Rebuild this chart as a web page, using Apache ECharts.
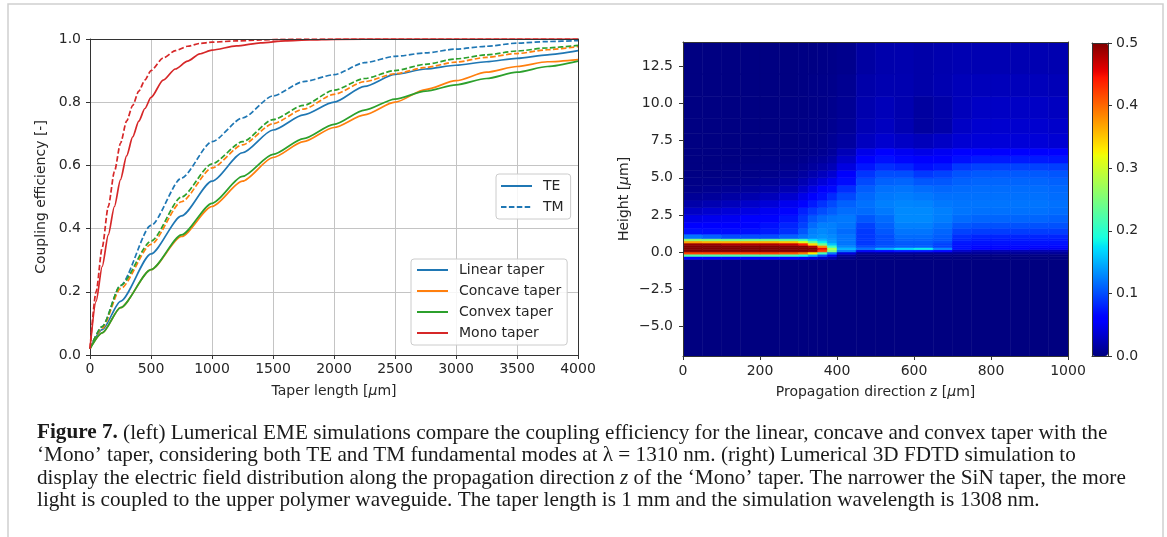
<!DOCTYPE html>
<html><head><meta charset="utf-8">
<script src="https://cdn.jsdelivr.net/npm/echarts@6/dist/echarts.min.js"></script>
<style>html,body{margin:0;padding:0;background:#fff}#c{width:1167px;height:537px}</style>
</head><body><div id="c"></div>
<script>
// ---------------- LEFT PANEL DATA (coupling efficiency vs taper length, µm) ----------------
const taperLengths = [0,100,250,500,750,1000,1250,1500,1750,2000,2250,2500,2750,3000,3250,3500,3750,4000];
const linearTE  = [0.02,0.08,0.17,0.32,0.44,0.55,0.64,0.712,0.76,0.80,0.85,0.888,0.905,0.917,0.928,0.939,0.95,0.963];
const linearTM  = [0.02,0.09,0.22,0.41,0.56,0.675,0.75,0.82,0.865,0.887,0.925,0.945,0.956,0.968,0.977,0.987,0.992,0.995];
const concaveTE = [0.02,0.07,0.15,0.27,0.375,0.47,0.55,0.625,0.675,0.72,0.76,0.80,0.84,0.868,0.895,0.913,0.928,0.935];
const concaveTM = [0.02,0.085,0.21,0.35,0.485,0.592,0.665,0.732,0.778,0.825,0.865,0.89,0.91,0.927,0.942,0.954,0.966,0.976];
const convexTE  = [0.02,0.07,0.15,0.27,0.38,0.48,0.565,0.635,0.685,0.73,0.775,0.81,0.835,0.855,0.875,0.895,0.913,0.93];
const convexTM  = [0.02,0.09,0.22,0.36,0.50,0.605,0.675,0.745,0.79,0.838,0.875,0.9,0.92,0.937,0.95,0.962,0.972,0.98];
const monoLengths = [0,50,100,150,200,250,300,350,400,450,500,600,700,800,900,1000,1200,1400,1600,1800,2000,2500,3000,3500,4000];
const monoTE = [0.02,0.17,0.28,0.38,0.47,0.555,0.63,0.69,0.74,0.78,0.815,0.87,0.905,0.93,0.953,0.965,0.978,0.988,0.994,0.997,0.999,1.0,1.0,1.0,1.0];
const monoTM = [0.02,0.2,0.34,0.47,0.58,0.67,0.74,0.79,0.835,0.87,0.9,0.94,0.963,0.977,0.986,0.99,0.994,0.997,0.999,1.0,1.0,1.0,1.0,1.0,1.0];
const taperNames = ['Linear taper','Concave taper','Convex taper','Mono taper'];
const modeNames = ['TE','TM'];

// ---------------- RIGHT PANEL DATA (|E| field, z in µm, height in µm) ----------------
const zEdges = [0,50,100,150,200,250,300,325,350,375,400,450,500,550,600,650,700,750,800,850,900,950,1000];
const hEdges = [-7.02,-0.5,-0.3,-0.15,0,0.15,0.3,0.45,0.6,0.75,0.9,1.2,1.6,2.0,2.5,3.0,3.5,4.0,4.5,5.0,5.5,6.0,6.5,7.0,8.0,9.0,10.5,12.0,14.16];
// rows listed from bottom (height -7) to top (height 14.2); 22 columns each
const field = [
 [0,0,0,0,0,0,0,0,0,0,0,0,0,0,0,0,0,0,0,0,0,0],
 [0.06,0.06,0.06,0.06,0.06,0.06,0.05,0.04,0.03,0.02,0.005,0,0,0,0,0,0,0,0,0,0,0],
 [0.22,0.22,0.22,0.22,0.22,0.21,0.19,0.15,0.1,0.05,0.01,0,0,0,0,0,0,0,0,0,0,0],
 [0.42,0.42,0.42,0.42,0.42,0.41,0.39,0.33,0.22,0.12,0.04,0.01,0.01,0.01,0.01,0.01,0.01,0.01,0.01,0.01,0.01,0.01],
 [0.5,0.5,0.5,0.5,0.5,0.5,0.5,0.49,0.42,0.25,0.12,0.05,0.06,0.07,0.07,0.06,0.03,0.02,0.02,0.02,0.02,0.02],
 [0.5,0.5,0.5,0.5,0.5,0.5,0.5,0.5,0.45,0.28,0.15,0.12,0.15,0.17,0.18,0.13,0.07,0.06,0.06,0.055,0.05,0.05],
 [0.5,0.5,0.5,0.5,0.5,0.5,0.5,0.48,0.38,0.21,0.13,0.1,0.105,0.11,0.11,0.095,0.07,0.065,0.065,0.065,0.065,0.065],
 [0.49,0.49,0.48,0.48,0.48,0.47,0.44,0.34,0.24,0.16,0.12,0.09,0.1,0.105,0.105,0.095,0.072,0.07,0.07,0.07,0.07,0.07],
 [0.37,0.36,0.36,0.36,0.36,0.35,0.31,0.24,0.18,0.14,0.12,0.09,0.1,0.108,0.108,0.1,0.075,0.072,0.072,0.072,0.072,0.072],
 [0.26,0.25,0.24,0.24,0.24,0.23,0.21,0.17,0.15,0.135,0.12,0.09,0.1,0.11,0.11,0.105,0.08,0.075,0.075,0.075,0.075,0.075],
 [0.12,0.11,0.1,0.1,0.1,0.11,0.12,0.13,0.135,0.13,0.12,0.09,0.1,0.115,0.115,0.108,0.085,0.08,0.08,0.08,0.08,0.08],
 [0.07,0.068,0.068,0.07,0.075,0.085,0.105,0.125,0.13,0.125,0.115,0.09,0.105,0.12,0.12,0.112,0.095,0.092,0.092,0.092,0.092,0.092],
 [0.058,0.058,0.06,0.063,0.07,0.08,0.095,0.115,0.125,0.125,0.12,0.095,0.11,0.125,0.125,0.118,0.105,0.102,0.102,0.102,0.102,0.102],
 [0.045,0.048,0.05,0.055,0.062,0.072,0.088,0.105,0.115,0.12,0.122,0.105,0.115,0.13,0.13,0.124,0.115,0.112,0.112,0.112,0.112,0.11],
 [0.03,0.034,0.038,0.043,0.05,0.062,0.078,0.09,0.1,0.108,0.116,0.115,0.122,0.13,0.13,0.125,0.12,0.118,0.118,0.118,0.118,0.116],
 [0.018,0.022,0.026,0.032,0.038,0.048,0.062,0.075,0.087,0.098,0.11,0.118,0.125,0.128,0.127,0.122,0.12,0.12,0.12,0.12,0.12,0.118],
 [0.01,0.012,0.016,0.02,0.026,0.034,0.046,0.058,0.07,0.083,0.098,0.114,0.122,0.124,0.122,0.118,0.118,0.118,0.118,0.118,0.118,0.116],
 [0.005,0.007,0.009,0.012,0.016,0.022,0.032,0.043,0.054,0.066,0.085,0.108,0.118,0.12,0.116,0.113,0.115,0.116,0.116,0.116,0.116,0.114],
 [0.003,0.004,0.005,0.007,0.01,0.014,0.022,0.03,0.039,0.048,0.068,0.098,0.11,0.112,0.105,0.105,0.11,0.112,0.112,0.112,0.112,0.11],
 [0.002,0.002,0.003,0.004,0.006,0.009,0.014,0.02,0.027,0.035,0.054,0.088,0.1,0.1,0.09,0.095,0.103,0.106,0.106,0.106,0.106,0.104],
 [0.001,0.001,0.002,0.003,0.004,0.006,0.009,0.013,0.018,0.024,0.042,0.073,0.085,0.08,0.07,0.075,0.09,0.095,0.095,0.095,0.095,0.093],
 [0.001,0.001,0.001,0.002,0.003,0.004,0.006,0.009,0.012,0.017,0.032,0.058,0.07,0.065,0.055,0.06,0.07,0.075,0.075,0.075,0.075,0.073],
 [0.001,0.001,0.001,0.001,0.002,0.003,0.004,0.006,0.008,0.012,0.024,0.046,0.055,0.05,0.045,0.05,0.055,0.06,0.06,0.06,0.06,0.058],
 [0.001,0.001,0.001,0.001,0.002,0.002,0.003,0.004,0.006,0.009,0.014,0.028,0.034,0.03,0.026,0.03,0.036,0.038,0.038,0.038,0.038,0.036],
 [0.001,0.001,0.001,0.001,0.001,0.002,0.003,0.004,0.005,0.007,0.011,0.023,0.028,0.022,0.014,0.018,0.03,0.034,0.034,0.034,0.034,0.032],
 [0.001,0.001,0.001,0.001,0.001,0.002,0.002,0.003,0.004,0.006,0.009,0.02,0.025,0.021,0.014,0.018,0.026,0.03,0.03,0.03,0.03,0.028],
 [0.001,0.001,0.001,0.001,0.001,0.001,0.002,0.003,0.004,0.005,0.008,0.018,0.021,0.021,0.018,0.021,0.025,0.026,0.026,0.026,0.026,0.024],
 [0.001,0.001,0.001,0.001,0.001,0.001,0.002,0.002,0.003,0.004,0.006,0.015,0.019,0.02,0.018,0.02,0.022,0.022,0.022,0.022,0.022,0.021]
];
const heightTicks = [-5,-2.5,0,2.5,5,7.5,10,12.5];
const fieldRange = [0, 0.5];

// ---------------- CAPTION ----------------
const captionLines = [
 '{b|Figure 7.} (left) Lumerical EME simulations compare the coupling efficiency for the linear, concave and convex taper with the',
 '‘Mono’ taper, considering both TE and TM fundamental modes at λ = 1310 nm. (right) Lumerical 3D FDTD simulation to',
 'display the electric field distribution along the propagation direction {i|z} of the ‘Mono’ taper. The narrower the SiN taper, the more',
 'light is coupled to the upper polymer waveguide. The taper length is 1 mm and the simulation wavelength is 1308 nm.'
];

// ---------------- STYLE ----------------
const FONT = 'DejaVu Sans';
const TXT = '#262626';
const AX = '#333333';
const FS = 14;
const CAP_FS = 21.2;
const COL = {'Linear taper':'#1f77b4','Concave taper':'#ff7f0e','Convex taper':'#2ca02c','Mono taper':'#d62728'};
const DASH = [5.5, 2.4];

function jet(t){
  const seg = pts => { for (let i=1;i<pts.length;i++){ if (t<=pts[i][0]) { const a=pts[i-1], b=pts[i]; return a[1]+(b[1]-a[1])*(t-a[0])/(b[0]-a[0]); } } return pts[pts.length-1][1]; };
  const r = seg([[0,0],[0.35,0],[0.66,1],[0.89,1],[1,0.5]]);
  const g = seg([[0,0],[0.125,0],[0.375,1],[0.64,1],[0.91,0],[1,0]]);
  const b = seg([[0,0.5],[0.11,1],[0.34,1],[0.65,0],[1,0]]);
  const h = v => Math.round(v*255).toString(16).padStart(2,'0');
  return '#'+h(r)+h(g)+h(b);
}
const jetColors = []; for (let i=0;i<=100;i++) jetColors.push(jet(i/100));

const pairs = (xs, ys) => xs.map((x,i)=>[x, ys[i]]);
function curve(name, xs, ys, color, dashed){
  return {type:'line', name, xAxisIndex:0, yAxisIndex:0, data:pairs(xs,ys), symbol:'none', showSymbol:false,
    smooth:0.25, smoothMonotone:'x', silent:true, z:3,
    lineStyle:{color, width:1.7, type: dashed?DASH:'solid'}, itemStyle:{color}};
}
const series = [
  curve('Linear taper', taperLengths, linearTE, COL['Linear taper'], false),
  curve('Linear taper TM', taperLengths, linearTM, COL['Linear taper'], true),
  curve('Concave taper', taperLengths, concaveTE, COL['Concave taper'], false),
  curve('Concave taper TM', taperLengths, concaveTM, COL['Concave taper'], true),
  curve('Convex taper', taperLengths, convexTE, COL['Convex taper'], false),
  curve('Convex taper TM', taperLengths, convexTM, COL['Convex taper'], true),
  curve('Mono taper', monoLengths, monoTE, COL['Mono taper'], false),
  curve('Mono taper TM', monoLengths, monoTM, COL['Mono taper'], true),
  {type:'line', name:modeNames[0], xAxisIndex:0, yAxisIndex:0, data:[], symbol:'none', lineStyle:{color:'#1f77b4', width:1.7}, itemStyle:{color:'#1f77b4'}},
  {type:'line', name:modeNames[1], xAxisIndex:0, yAxisIndex:0, data:[], symbol:'none', lineStyle:{color:'#1f77b4', width:1.7, type:DASH}, itemStyle:{color:'#1f77b4'}}
];
const cells = [];
for (let r=0;r<field.length;r++) for (let c=0;c<field[r].length;c++)
  cells.push([zEdges[c], zEdges[c+1], hEdges[r], hEdges[r+1], field[r][c]]);
const heatIndex = series.length;
series.push({
  type:'custom', xAxisIndex:2, yAxisIndex:2, data:cells, encode:{x:[0,1], y:[2,3]}, silent:true, clip:true,
  renderItem(params, api){
    const p0 = api.coord([api.value(0), api.value(2)]);
    const p1 = api.coord([api.value(1), api.value(3)]);
    const color = api.visual('color');
    return {type:'rect', shape:{x:p0[0], y:p1[1], width:p1[0]-p0[0], height:p0[1]-p1[1]},
      style:{fill:color, stroke:color, lineWidth:0.6}};
  }
});

const lbl = extra => Object.assign({fontFamily:FONT, fontSize:FS, color:TXT}, extra||{});
const frameAxis = (gridIndex, position, min, max) => ({
  type:'value', gridIndex, position, min, max, z:10,
  axisLine:{show:true, onZero:false, lineStyle:{color:AX, width:1}},
  axisTick:{show:false}, axisLabel:{show:false}, splitLine:{show:false}
});
const nameRich = txt => ({
  name: txt,
  nameTextStyle: {fontFamily:FONT, fontSize:FS, color:TXT,
    rich:{a:{fontFamily:FONT, fontSize:FS, color:TXT}, i:{fontFamily:FONT, fontSize:FS, color:TXT, fontStyle:'italic'}}}
});
const plain = v => String(v);

const option = {
  animation:false,
  backgroundColor:'#ffffff',
  grid:[
    {left:90, top:39, width:488, height:316},
    {left:683, top:42, width:385, height:314},
    {left:1092, top:43, width:16, height:313}
  ],
  xAxis:[
    Object.assign({type:'value', gridIndex:0, position:'bottom', min:0, max:4000, interval:500, z:1,
      axisLine:{show:true, onZero:false, lineStyle:{color:AX, width:1}},
      axisTick:{show:true, length:4, lineStyle:{color:AX}},
      axisLabel:lbl({margin:7, formatter:plain}),
      splitLine:{show:true, lineStyle:{color:'#c4c4c4', width:1}},
      nameLocation:'middle', nameGap:29}, nameRich('{a|Taper length [}{i|μ}{a|m]}')),
    frameAxis(0,'top',0,4000),
    Object.assign({type:'value', gridIndex:1, position:'bottom', min:0, max:1000, interval:200, z:10,
      axisLine:{show:true, onZero:false, lineStyle:{color:AX, width:1}},
      axisTick:{show:true, length:4, lineStyle:{color:AX}},
      axisLabel:lbl({margin:8, formatter:plain}), splitLine:{show:false},
      nameLocation:'middle', nameGap:29}, nameRich('{a|Propagation direction z [}{i|μ}{a|m]}')),
    frameAxis(1,'top',0,1000),
    frameAxis(2,'bottom',0,1),
    frameAxis(2,'top',0,1)
  ],
  yAxis:[
    Object.assign({type:'value', gridIndex:0, position:'left', min:0, max:1, interval:0.2, z:1,
      axisLine:{show:true, onZero:false, lineStyle:{color:AX, width:1}},
      axisTick:{show:true, length:4, lineStyle:{color:AX}},
      axisLabel:lbl({margin:9, formatter:v=>v.toFixed(1)}),
      splitLine:{show:true, lineStyle:{color:'#c4c4c4', width:1}},
      nameLocation:'middle', nameGap:42}, nameRich('{a|Coupling efficiency [-]}')),
    frameAxis(0,'right',0,1),
    Object.assign({type:'value', gridIndex:1, position:'left', min:hEdges[0], max:hEdges[hEdges.length-1], z:10,
      axisLine:{show:true, onZero:false, lineStyle:{color:AX, width:1}},
      axisTick:{show:true, length:4, lineStyle:{color:AX}, customValues:heightTicks},
      axisLabel:lbl({margin:10, customValues:heightTicks, formatter:v=>(v<0?'−':'')+Math.abs(v).toFixed(1)}),
      splitLine:{show:false},
      nameLocation:'middle', nameGap:52}, nameRich('{a|Height [}{i|μ}{a|m]}')),
    frameAxis(1,'right',hEdges[0],hEdges[hEdges.length-1]),
    frameAxis(2,'left',0,0.5),
    {type:'value', gridIndex:2, position:'right', min:fieldRange[0], max:fieldRange[1], interval:0.1, z:10,
      axisLine:{show:true, onZero:false, lineStyle:{color:AX, width:1}},
      axisTick:{show:true, length:4, lineStyle:{color:AX}},
      axisLabel:lbl({margin:8, formatter:v=>v.toFixed(1)}), splitLine:{show:false}}
  ],
  visualMap:{
    type:'continuous', min:fieldRange[0], max:fieldRange[1], dimension:4, seriesIndex:heatIndex,
    inRange:{color:jetColors}, calculable:false, hoverLink:false, realtime:false,
    orient:'vertical', left:1092, top:43, itemWidth:16, itemHeight:313, padding:0, show:true
  },
  legend:[
    {data:modeNames, orient:'vertical', left:496, top:174, padding:[5,7,5,4], itemWidth:31, itemHeight:14, itemGap:7, z:20,
     backgroundColor:'rgba(255,255,255,0.85)', borderColor:'#cccccc', borderWidth:1, borderRadius:3,
     itemStyle:{opacity:0}, selectedMode:false, textStyle:{fontFamily:FONT, fontSize:FS, color:TXT, padding:[0,0,0,6]}},
    {data:taperNames, orient:'vertical', left:411, top:259, padding:[4,6,5,5], itemWidth:31, itemHeight:14, itemGap:7, z:20,
     backgroundColor:'rgba(255,255,255,0.85)', borderColor:'#cccccc', borderWidth:1, borderRadius:3,
     itemStyle:{opacity:0}, selectedMode:false, textStyle:{fontFamily:FONT, fontSize:FS, color:TXT, padding:[0,0,0,6]}}
  ],
  graphic:[
    {type:'rect', silent:true, z:0, shape:{x:8, y:4, width:1155, height:600}, style:{fill:'none', stroke:'#cfcfcf', lineWidth:1.5}}
  ].concat(captionLines.map((t,i)=>({
    type:'text', silent:true, x:37, y:433+i*22.6,
    style:{text:t, fontFamily:'Liberation Serif', fontSize:CAP_FS, fill:'#1a1a1a', verticalAlign:'middle', align:'left',
      rich:{b:{fontFamily:'Liberation Serif', fontSize:CAP_FS, fontWeight:'bold', fill:'#1a1a1a'},
            i:{fontFamily:'Liberation Serif', fontSize:CAP_FS, fontStyle:'italic', fill:'#1a1a1a'}}}
  }))),
  series
};
const chart = echarts.init(document.getElementById('c'), null, {renderer:'canvas'});
chart.setOption(option);
</script></body></html>
